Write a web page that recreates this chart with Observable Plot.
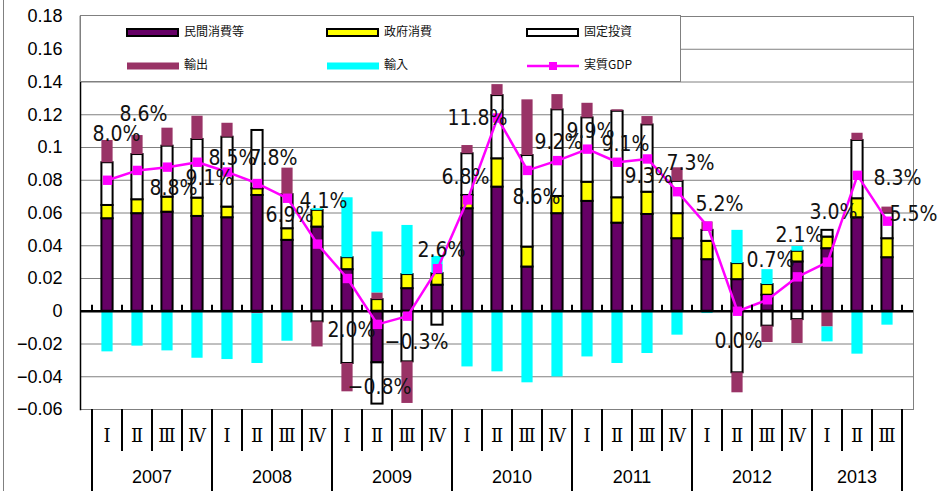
<!DOCTYPE html>
<html><head><meta charset="utf-8">
<script src="https://cdn.jsdelivr.net/npm/d3@7"></script>
<script src="https://cdn.jsdelivr.net/npm/@observablehq/plot@0.6"></script>
<style>
html,body{margin:0;padding:0;background:#fff;}
#chart{position:relative;width:945px;height:491px;overflow:hidden;}
</style></head><body><div id="chart"></div>
<script>
// ---- data ----
const years = [2007, 2008, 2009, 2010, 2011, 2012, 2013];
const quartersPerYear = [4, 4, 4, 4, 4, 4, 3];
const quarterLabels = ["Ⅰ", "Ⅱ", "Ⅲ", "Ⅳ"];
const seriesNames = ["民間消費等", "政府消費", "固定投資", "輸出", "輸入", "実質GDP"];

const consumption = [0.0565, 0.0596, 0.0605, 0.0579, 0.0571, 0.0707, 0.0433, 0.0514, 0.0254, -0.0315, 0.0138, 0.0159, 0.0626, 0.0758, 0.0270, 0.0596, 0.0671, 0.0538, 0.0591, 0.0443, 0.0315, 0.0193, 0.0098, 0.0301, 0.0382, 0.0571, 0.0327];
const government = [0.0081, 0.0085, 0.0092, 0.0112, 0.0065, 0.0041, 0.0071, 0.0102, 0.0073, 0.0071, 0.0086, 0.0071, 0.0081, 0.0173, 0.0122, 0.0105, 0.0117, 0.0155, 0.0136, 0.0153, 0.0112, 0.0098, 0.0065, 0.0065, 0.0071, 0.0116, 0.0116];
const investment = [0.0261, 0.0276, 0.0311, 0.0358, 0.0427, 0.0356, 0.0208, -0.0065, -0.0319, -0.0252, -0.0309, -0.0085, 0.0255, 0.0386, 0.0559, 0.0529, 0.0393, 0.0528, 0.0411, 0.0197, 0.0067, -0.0376, -0.0091, -0.0051, 0.0041, 0.0356, 0.0156];
const exportsC = [0.0136, 0.0116, 0.0110, 0.0142, 0.0085, -0.0015, 0.0162, -0.0153, -0.0173, 0.0041, -0.0254, 0, 0.0050, 0.0067, 0.0340, 0.0093, 0.0089, 0.0009, 0.0051, 0.0083, 0.0051, -0.0122, -0.0100, -0.0146, -0.0096, 0.0044, 0.0037];
const importsC = [-0.0248, -0.0213, -0.0242, -0.0287, -0.0295, -0.0304, -0.0183, 0.0010, 0.0366, 0.0372, 0.0300, 0.0105, -0.0340, -0.0370, -0.0437, -0.0401, -0.0279, -0.0319, -0.0258, -0.0146, -0.0014, 0.0203, 0.0091, 0.0030, -0.0091, -0.0262, -0.0085];
const gdpGrowth = [8.0, 8.6, 8.8, 9.1, 8.5, 7.8, 6.9, 4.1, 2.0, -0.8, -0.3, 2.6, 6.8, 11.8, 8.6, 9.2, 9.9, 9.1, 9.3, 7.3, 5.2, 0.0, 0.7, 2.1, 3.0, 8.3, 5.5];
const yTickValues = [-6, -4, -2, 0, 2, 4, 6, 8, 10, 12, 14, 16, 18].map(v => v / 100);

// ---- layout / style (not data) ----
const labelDx = [9, 6, 6, 12, 5, 16, 2, 6, 4, 2, 9, 4, -2, -20, 9, 1, 3, 8, 1, 13, 12, 1, 3, 2, 6, 40, 26];
const labelDy = [-46, -56, 21, 16, -14, -25, 17, -43, 52, 63, 26, -18, -23, 0, 27, -18, -18, -18, 17, -28, -22, 30, -40, -42, -50, 3, -7];
const seriesFill = ["#660066", "#FFFF00", "#FFFFFF", "#993366", "#00FFFF"];
const seriesStroke = ["#000000", "#000000", "#000000", "none", "none"];
const gdpColor = "#FF00FF";

// ---- build tables ----
const quarters = [];
years.forEach((y, i) => { for (let q = 0; q < quartersPerYear[i]; q++) quarters.push({id: `${y}Q${q + 1}`, year: y, q}); });
const seriesValues = [consumption, government, investment, exportsC, importsC];
const rows = [];
quarters.forEach((qt, i) => seriesValues.forEach((arr, s) => { if (arr[i] !== 0) rows.push({q: qt.id, s, value: arr[i]}); }));
const fmtPct = v => (v < 0 ? "−" : "") + Math.abs(v).toFixed(1) + "%";
const gdpRows = quarters.map((qt, i) => ({q: qt.id, v: gdpGrowth[i] / 100, label: fmtPct(gdpGrowth[i])}));
const fmtY = d => d === 0 ? "0" : String(Math.round(d * 100) / 100).replace("-", "−");

const labelFont = "'Liberation Sans Narrow', 'DejaVu Sans Condensed', 'Liberation Sans', sans-serif";

const plot = Plot.plot({
  width: 945, height: 491,
  marginLeft: 80, marginRight: 32, marginTop: 16, marginBottom: 82,
  style: {fontFamily: "'Liberation Sans', Arial, sans-serif", background: "transparent", overflow: "visible"},
  x: {type: "band", domain: quarters.map(d => d.id), padding: 0, axis: null},
  y: {domain: [-0.06, 0.18], axis: null},
  color: {type: "identity"},
  marks: [
    Plot.gridY(yTickValues, {stroke: "#808080", strokeOpacity: 1, strokeWidth: 1}),
    Plot.frame({anchor: "right", stroke: "#808080", strokeOpacity: 1}),
    Plot.barY(rows, {x: "q", y: "value", fill: d => seriesFill[d.s], stroke: d => seriesStroke[d.s], strokeWidth: 2, insetLeft: 9.4, insetRight: 9.4}),
    Plot.ruleY([0], {stroke: "black", strokeWidth: 2.5}),
    Plot.frame({anchor: "left", stroke: "black", strokeWidth: 1.5}),
    Plot.axisY(yTickValues, {tickSize: 0, tickPadding: 18, fontSize: 18, tickFormat: fmtY, fill: "black"}),
    Plot.line(gdpRows, {x: "q", y: "v", stroke: gdpColor, strokeWidth: 2.5}),
    Plot.dot(gdpRows, {x: "q", y: "v", symbol: "square", r: 5.3, fill: gdpColor, stroke: "none"}),
    ...gdpRows.map((d, i) => Plot.text([d], {x: "q", y: "v", text: "label", dx: labelDx[i], dy: labelDy[i], fontSize: 21, fill: "#111", fontFamily: labelFont}))
  ]
});

document.getElementById("chart").appendChild(plot);

// ---- category axis, zero-line ticks, legend (drawn with the plot's own scales) ----
const xs = plot.scale("x");
const ys = plot.scale("y");
const step = xs.bandwidth;
const svg = d3.select(plot);
const yBottom = ys.apply(-0.06);
const y0 = ys.apply(0);
const g = svg.append("g");
const bounds = quarters.map(qt => xs.apply(qt.id));
bounds.push(bounds[bounds.length - 1] + step);
bounds.forEach((bx, i) => {
  g.append("line").attr("x1", bx).attr("x2", bx).attr("y1", y0).attr("y2", y0 - 6).attr("stroke", "black").attr("stroke-width", 2);
  const isYear = i === 0 || i === bounds.length - 1 || quarters[i].q === 0;
  g.append("line").attr("x1", bx).attr("x2", bx).attr("y1", yBottom).attr("y2", isYear ? 491 : yBottom + 42)
    .attr("stroke", "black").attr("stroke-width", 2);
});
quarters.forEach(qt => {
  g.append("text").attr("x", xs.apply(qt.id) + step / 2).attr("y", yBottom + 28).attr("text-anchor", "middle")
    .attr("dominant-baseline", "middle").attr("font-size", 18)
    .attr("font-family", "'DejaVu Serif', 'Liberation Serif', serif").attr("fill", "black").text(quarterLabels[qt.q]);
});
years.forEach((yr, i) => {
  const qs = quarters.filter(d => d.year === yr);
  const cx = (xs.apply(qs[0].id) + xs.apply(qs[qs.length - 1].id) + step) / 2;
  g.append("text").attr("x", cx).attr("y", yBottom + 69).attr("text-anchor", "middle").attr("dominant-baseline", "middle")
    .attr("font-size", 18).attr("font-family", "'Liberation Sans', Arial, sans-serif").attr("fill", "black").text(yr);
});
// outer chart-area border
g.append("line").attr("x1", 3.5).attr("x2", 3.5).attr("y1", 0).attr("y2", 491).attr("stroke", "#808080");

// legend box
const lg = svg.append("g").attr("font-family", "'Noto Sans CJK JP', sans-serif").attr("font-size", 12).attr("text-anchor", "start");
lg.append("rect").attr("x", 80.5).attr("y", 15.5).attr("width", 600).attr("height", 66).attr("fill", "white").attr("stroke", "#808080");
const colX = [127, 327, 527];
const rowY = [32.5, 66];
seriesNames.forEach((name, i) => {
  const cx = colX[i % 3], cy = rowY[Math.floor(i / 3)];
  if (i < 3) {
    lg.append("rect").attr("x", cx).attr("y", cy - 3.5).attr("width", 51).attr("height", 7).attr("fill", seriesFill[i]).attr("stroke", "black").attr("stroke-width", 2);
  } else if (i < 5) {
    lg.append("rect").attr("x", cx).attr("y", cy - 3.5).attr("width", 52).attr("height", 7).attr("fill", seriesFill[i]);
  } else {
    lg.append("line").attr("x1", cx).attr("x2", cx + 52).attr("y1", cy).attr("y2", cy).attr("stroke", gdpColor).attr("stroke-width", 2.5);
    lg.append("rect").attr("x", cx + 22).attr("y", cy - 4).attr("width", 8).attr("height", 8).attr("fill", gdpColor);
  }
  lg.append("text").attr("x", cx + 57).attr("y", cy).attr("text-anchor", "start").attr("dominant-baseline", "middle").attr("fill", "#111").text(name);
});
</script></body></html>
